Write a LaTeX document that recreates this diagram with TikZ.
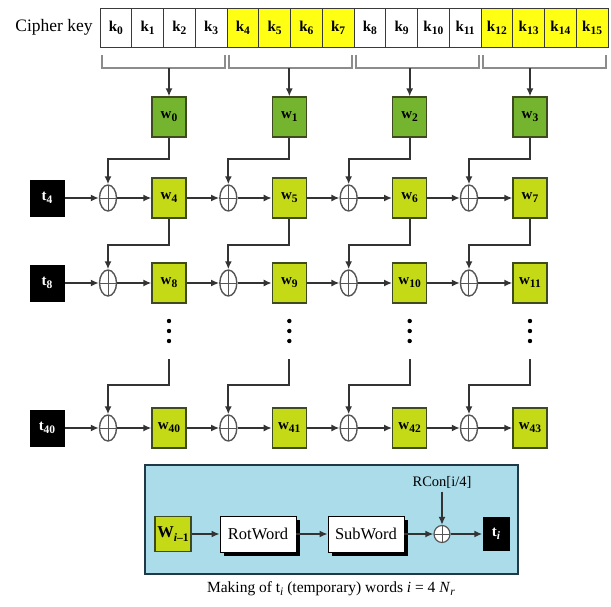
\documentclass[tikz,border=0pt]{standalone}
\usepackage{fontspec}
\setmainfont{Liberation Serif}
\usetikzlibrary{arrows.meta,shapes.geometric,shadows}

\definecolor{keyyellow}{HTML}{FFFF14}
\definecolor{wdark}{HTML}{74B42E}
\definecolor{wlime}{HTML}{C4DA16}
\definecolor{wborder}{HTML}{3E4A20}
\definecolor{cellb}{HTML}{3A3A3A}
\definecolor{linec}{HTML}{333333}
\definecolor{xorc}{HTML}{555555}
\definecolor{brk}{HTML}{8C8C8C}
\definecolor{panelfill}{HTML}{ABDCEA}
\definecolor{panelb}{HTML}{1F3A46}

% lowered subscript in text fonts
\newcommand\sbs[1]{\raisebox{-0.45ex}{\fontsize{11.5}{11.5}\selectfont #1}}

\tikzset{
  conn/.style={draw=linec, line width=1.8pt, -{Latex[length=8pt,width=7pt]}},
  bracket/.style={draw=brk, line width=1.3pt},
  keycell/.style={draw=cellb, line width=1pt, minimum width=31.75pt,
    minimum height=39pt, inner sep=0pt, font=\fontsize{15}{15}\selectfont\bfseries},
  wbase/.style={draw=wborder, line width=1.2pt, minimum width=34pt,
    minimum height=40pt, inner sep=0pt, font=\fontsize{15}{15}\selectfont\bfseries},
  wtop/.style={wbase, fill=wdark},
  wbox/.style={wbase, fill=wlime},
  tbox/.style={fill=black, text=white, minimum width=35pt, minimum height=37pt,
    inner sep=0pt, font=\fontsize{15}{15}\selectfont\bfseries},
  plus/.style={path picture={\draw[xorc, line width=1pt]
      (path picture bounding box.north) -- (path picture bounding box.south)
      (path picture bounding box.west) -- (path picture bounding box.east);}},
  xor/.style={ellipse, draw=xorc, line width=1.4pt, minimum width=17pt,
    minimum height=26pt, inner sep=0pt, plus},
  stage/.style={draw=black, fill=white, line width=0.8pt, minimum width=76pt,
    minimum height=36pt, inner sep=0pt, font=\fontsize{16.5}{16.5}\selectfont,
    drop shadow={shadow xshift=3.5pt, shadow yshift=-3.5pt, fill=black, opacity=1}},
}

\begin{document}
\begin{tikzpicture}[x=1pt, y=-1pt]
\useasboundingbox (0,0) rectangle (611,606);

% cipher key bytes
\node[font=\fontsize{17.5}{17.5}\selectfont] (ck) at (54,27) {Cipher key};
\foreach \i in {0,...,15}{
  \pgfmathtruncatemacro\g{mod(int(\i/4),2)}
  \ifnum\g=1 \def\kf{keyyellow}\else \def\kf{white}\fi
  \node[keycell, fill=\kf] (k\i) at ({100+31.75*\i+15.875},27.5) {k\sbs{\i}};
}

% brackets grouping four bytes per word
\foreach \g in {0,...,3}{
  \draw[bracket] ({100+127*\g+2},55) -- ({100+127*\g+2},68)
    -- ({100+127*(\g+1)-2},68) -- ({100+127*(\g+1)-2},55);
}

% first four words
\foreach \c in {0,...,3}{
  \pgfmathsetmacro\cx{169+120.33*\c}
  \coordinate (b\c) at (\cx,68);
  \node[wtop] (w\c) at (\cx,117) {w\sbs{\c}};
  \draw[conn] (b\c) -- (w\c.north);
}

% row 1 : w4..w7
\node[tbox] (t4) at (47,198) {t\sbs{4}};
\foreach \c in {0,...,3}{
  \pgfmathsetmacro\cx{169+120.33*\c}
  \pgfmathtruncatemacro\n{4+\c}
  \node[xor] (xa\c) at ({\cx-61},198) {};
  \node[wbox] (w\n) at (\cx,198) {w\sbs{\n}};
  \coordinate (fa\c) at (\cx,159);
  \draw[conn] (w\c.south) -- (fa\c) -| (xa\c.north);
  \draw[conn] (xa\c.east) -- (w\n.west);
}
\draw[conn] (t4.east) -- (xa0.west);
\draw[conn] (w4.east) -- (xa1.west);
\draw[conn] (w5.east) -- (xa2.west);
\draw[conn] (w6.east) -- (xa3.west);

% row 2 : w8..w11
\node[tbox] (t8) at (47,283) {t\sbs{8}};
\foreach \c in {0,...,3}{
  \pgfmathsetmacro\cx{169+120.33*\c}
  \pgfmathtruncatemacro\n{8+\c}
  \pgfmathtruncatemacro\p{4+\c}
  \node[xor] (xb\c) at ({\cx-61},283) {};
  \node[wbox] (w\n) at (\cx,283) {w\sbs{\n}};
  \coordinate (fb\c) at (\cx,245);
  \draw[conn] (w\p.south) -- (fb\c) -| (xb\c.north);
  \draw[conn] (xb\c.east) -- (w\n.west);
}
\draw[conn] (t8.east) -- (xb0.west);
\draw[conn] (w8.east) -- (xb1.west);
\draw[conn] (w9.east) -- (xb2.west);
\draw[conn] (w10.east) -- (xb3.west);

% elided rows
\foreach \c in {0,...,3}{
  \pgfmathsetmacro\cx{169+120.33*\c}
  \foreach \yy in {321,331,341}{\fill[black] (\cx,\yy) circle (2.2pt);}
}

% last row : w40..w43
\node[tbox] (t40) at (47,428) {t\sbs{40}};
\foreach \c in {0,...,3}{
  \pgfmathsetmacro\cx{169+120.33*\c}
  \pgfmathtruncatemacro\n{40+\c}
  \node[xor] (xc\c) at ({\cx-61},428) {};
  \node[wbox] (w\n) at (\cx,428) {w\sbs{\n}};
  \coordinate (d\c) at (\cx,359);
  \coordinate (fc\c) at (\cx,385);
  \draw[conn] (d\c) -- (fc\c) -| (xc\c.north);
  \draw[conn] (xc\c.east) -- (w\n.west);
}
\draw[conn] (t40.east) -- (xc0.west);
\draw[conn] (w40.east) -- (xc1.west);
\draw[conn] (w41.east) -- (xc2.west);
\draw[conn] (w42.east) -- (xc3.west);

% making of the temporary words
\node[draw=panelb, fill=panelfill, line width=2pt, minimum width=373pt,
  minimum height=109pt] (panel) at (331.5,519.5) {};
\node[wbase, fill=wlime, minimum width=36pt, minimum height=35pt,
  font=\fontsize{16.5}{16.5}\selectfont\bfseries] (wim) at (173,534)
  {W\sbs{\textit{i}–1}};
\node[stage] (rot) at (258,534) {RotWord};
\node[stage] (sub) at (366,534) {SubWord};
\node[ellipse, draw=xorc, fill=white, line width=1.2pt, minimum width=16pt,
  minimum height=17pt, inner sep=0pt, plus] (ix) at (442,534) {};
\node[fill=black, text=white, minimum width=27pt, minimum height=34pt,
  inner sep=0pt, font=\fontsize{15}{15}\selectfont\bfseries] (ti) at (496,534)
  {t\sbs{\textit{i}}};
\node[font=\fontsize{14.5}{14.5}\selectfont] (rc) at (442,482) {RCon[i/4]};
\draw[conn] (wim.east) -- (rot.west);
\draw[conn] (rot.east) -- (sub.west);
\draw[conn] (sub.east) -- (ix.west);
\draw[conn] (ix.east) -- (ti.west);
\draw[conn] (rc.south) -- (ix.north);

\node[font=\fontsize{15.5}{15.5}\selectfont] (cap) at (331,589)
  {Making of t\sbs{\textit{i}} (temporary) words \textit{i} = 4 \textit{N}\sbs{\textit{r}}};
\end{tikzpicture}
\end{document}
